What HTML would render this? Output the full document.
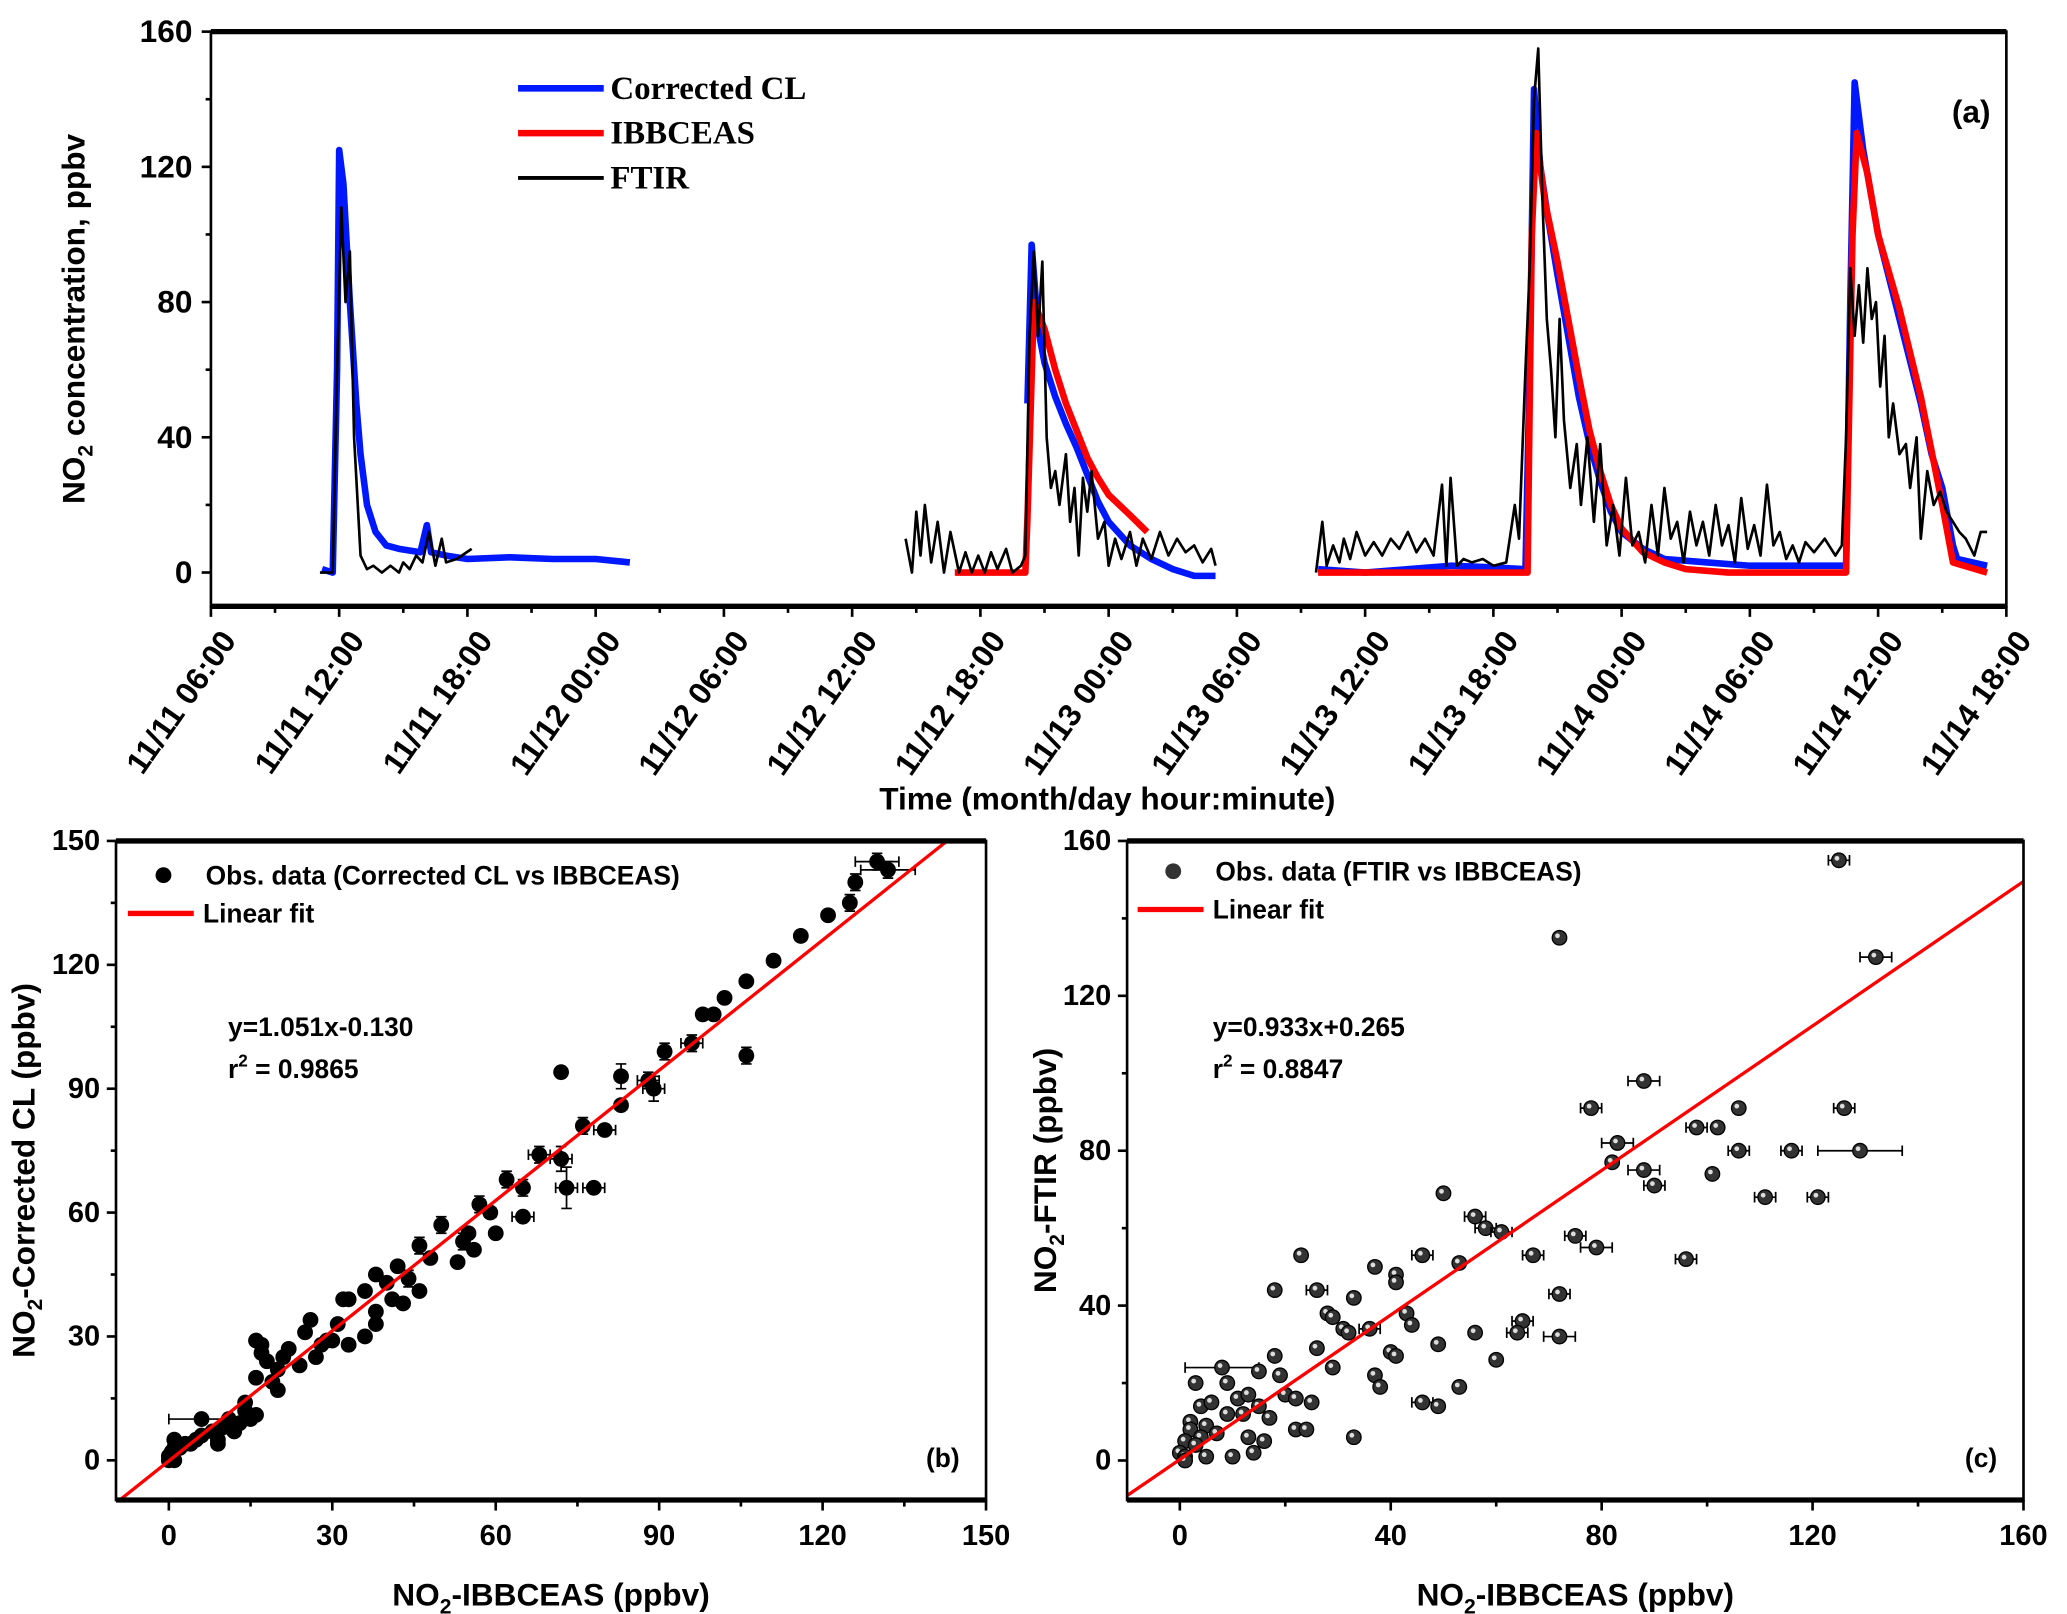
<!DOCTYPE html>
<html><head><meta charset="utf-8"><style>
html,body{margin:0;padding:0;background:#fff;}
svg{display:block;}
.tk{font-family:"Liberation Sans",sans-serif;font-weight:bold;font-size:22px;fill:#000;}
.tka{font-family:"Liberation Sans",sans-serif;font-weight:bold;font-size:24px;fill:#000;}
.tt{font-family:"Liberation Sans",sans-serif;font-weight:bold;font-size:24px;fill:#000;}
.lg{font-family:"Liberation Serif",serif;font-weight:bold;font-size:25px;fill:#000;}
.lg2{font-family:"Liberation Sans",sans-serif;font-weight:bold;font-size:20px;fill:#000;}
</style></head><body>
<svg id="fig" width="2067" height="1614" viewBox="0 0 1568 1224.5" preserveAspectRatio="none" xmlns="http://www.w3.org/2000/svg">
<g id="pa"></g>
<g id="pb"></g>
<g id="pc"></g>
</svg>
<script>
// ---------- Panel (a) data: hours since 11/11 06:00 ----------
const timeTickLabels=["11/11 06:00","11/11 12:00","11/11 18:00","11/12 00:00","11/12 06:00","11/12 12:00","11/12 18:00","11/13 00:00","11/13 06:00","11/13 12:00","11/13 18:00","11/14 00:00","11/14 06:00","11/14 12:00","11/14 18:00"];
const concTicks=[0,40,80,120,160];
const clSeg1=[[5.2,1],[5.7,0],[5.9,60],[6.0,125],[6.2,115],[6.5,80],[6.8,50],[7.0,35],[7.3,20],[7.7,12],[8.2,8],[8.8,7],[9.8,6],[10.1,14],[10.3,6],[11,5],[12,4],[14,4.5],[16,4],[18,4],[19.6,3]];
const clSeg2=[[38.2,50],[38.4,97],[38.7,72],[39.0,62],[39.5,52],[40,44],[40.5,37],[41,29],[41.5,21],[42,15],[43,8],[44,4],[45,1],[46,-1],[47,-1]];
const clSeg3=[[51.8,1],[54,0],[56,1],[58,2],[60,1.5],[61.5,1],[61.7,60],[61.9,143],[62.2,120],[62.5,107],[63,88],[63.5,70],[64,52],[64.5,38],[65,27],[65.5,18],[66,12],[67,7],[68,4],[70,3],[72,2],[74,2],[76.5,2],[76.7,80],[76.9,145],[77.3,125],[78,100],[79,75],[80,50],[80.5,35],[81,25],[81.5,8],[81.7,4],[83.1,2]];
const ibSeg2=[[34.8,0],[38.1,0],[38.2,16],[38.5,80],[39,72],[39.5,60],[40,50],[40.5,42],[41,34],[41.5,28],[42,23],[43,17],[43.8,12]];
const ibSeg3=[[51.8,0],[55,0],[58,0],[61.6,0],[61.8,100],[62,130],[62.4,110],[63,92],[63.5,75],[64,58],[64.5,42],[65,30],[65.5,20],[66,13],[67,6],[68,3],[69,1],[71,0],[76.5,0],[76.8,100],[77,130],[77.5,118],[78,100],[79,78],[80,52],[81,20],[81.5,3],[83.1,0]];
const ftSeg1=[[5.1,0],[5.7,0],[5.9,60],[6.1,108],[6.3,80],[6.5,95],[6.7,40],[7.0,5],[7.3,1],[7.6,2],[8.0,0],[8.4,2],[8.8,0],[9,3],[9.3,1],[9.6,5],[9.9,3],[10.2,12],[10.5,2],[10.8,10],[11,3],[11.5,4],[12.2,7]];
const ftSeg2=[[32.5,10],[32.8,0],[33,18],[33.2,5],[33.4,20],[33.7,3],[34,15],[34.3,0],[34.6,12],[35,0],[35.3,6],[35.6,0],[35.9,5],[36.2,0],[36.5,6],[36.8,1],[37.2,7],[37.5,0],[37.9,2],[38.1,5],[38.3,70],[38.5,95],[38.7,70],[38.9,92],[39.1,40],[39.3,25],[39.5,30],[39.7,20],[40,35],[40.2,15],[40.4,25],[40.6,5],[40.8,28],[41,18],[41.2,30],[41.5,10],[41.8,15],[42,2],[42.3,10],[42.6,4],[43,12],[43.3,2],[43.6,10],[44,4],[44.4,12],[44.8,5],[45.2,10],[45.6,6],[46,8],[46.4,3],[46.8,7],[47,2]];
const ftSeg3=[[51.7,0],[52,15],[52.2,2],[52.5,8],[52.8,3],[53,10],[53.3,4],[53.6,12],[54,5],[54.4,9],[54.8,5],[55.2,10],[55.6,7],[56,12],[56.4,6],[56.8,10],[57.2,5],[57.6,26],[57.8,2],[58,28],[58.3,2],[58.6,4],[59,3],[59.5,4],[60,2],[60.6,3],[61,20],[61.2,10],[61.5,60],[61.7,90],[61.9,140],[62.1,155],[62.3,110],[62.5,75],[62.7,60],[62.9,40],[63.1,75],[63.3,45],[63.6,25],[63.9,38],[64.1,20],[64.4,40],[64.7,15],[65,38],[65.3,8],[65.6,20],[65.9,5],[66.2,28],[66.5,8],[66.8,12],[67.1,3],[67.4,20],[67.7,5],[68,25],[68.3,10],[68.6,15],[68.9,3],[69.2,18],[69.5,8],[69.8,15],[70.1,5],[70.4,20],[70.7,8],[71,14],[71.3,3],[71.6,22],[71.9,7],[72.2,14],[72.5,5],[72.8,26],[73.1,8],[73.4,12],[73.7,4],[74,8],[74.3,3],[74.6,9],[75,6],[75.5,10],[76,5],[76.3,8],[76.5,40],[76.7,90],[76.9,70],[77.1,85],[77.3,68],[77.5,90],[77.7,75],[77.9,80],[78.1,55],[78.3,70],[78.5,40],[78.7,50],[79,35],[79.3,38],[79.5,25],[79.8,40],[80,10],[80.3,30],[80.6,20],[80.9,24],[81.2,18],[81.5,15],[81.8,12],[82.1,10],[82.5,5],[82.8,12],[83.1,12]];
// ---------- Panel (b) data: [IBBCEAS, CL, xerr, yerr] ----------
const bTicks=[0,30,60,90,120,150];
const bPoints=[[130,145,4,2],[132,143,5,2],[126,140,1,2],[125,135,1,2],[121,132,0,1],[116,127,1,1],[111,121,1,1],[106,116,0,1],[102,112,0,1],[100,108,1,1],[98,108,1,1],[96,101,2,2],[91,99,1,2],[88,92,2,2],[89,90,2,3],[83,86,1,1],[83,93,1,3],[80,80,2,1],[76,81,1,2],[72,73,2,3],[73,66,2,5],[78,66,2,1],[68,74,2,2],[65,66,1,2],[65,59,2,1],[62,68,1,2],[60,55,0,1],[59,60,1,1],[57,62,1,2],[56,51,0,1],[54,53,1,2],[53,48,0,1],[50,57,1,2],[48,49,0,1],[46,52,1,2],[46,41,0,1],[44,44,1,2],[42,47,0,1],[41,39,0,1],[43,38,0,1],[40,43,0,1],[38,36,0,1],[38,33,0,1],[36,30,0,1],[33,39,1,1],[32,39,0,1],[33,28,0,1],[31,33,0,1],[30,29,0,1],[29,29,0,1],[27,25,0,1],[26,34,0,1],[25,31,0,1],[24,23,0,1],[22,27,0,1],[21,25,0,1],[20,17,0,1],[19,19,0,1],[18,24,0,1],[17,26,0,1],[17,28,0,1],[16,20,0,1],[16,11,0,1],[15,10,0,1],[14,12,0,1],[13,9,0,1],[12,8,0,1],[11,10,0,1],[10,8,0,1],[9,5,0,1],[8,7,0,1],[6,6,0,1],[5,5,0,1],[4,4,0,1],[3,4,0,1],[2,3,0,1],[1,5,0,1],[1,3,0,1],[0.5,2,0,1],[0,1,0,1],[0,0,0,1],[1,0,0,1],[72,94,0,1],[106,98,1,2],[16,29,0,1],[9,4,0,1],[12,7,0,1],[14,14,0,1],[20,22,0,1],[36,41,0,1],[38,45,0,1],[28,28,0,1],[55,55,0,1],[6,10,6,0]];
// ---------- Panel (c) data: [IBBCEAS, FTIR, xerr] ----------
const cTicks=[0,40,80,120,160];
const cPoints=[[125,155,2],[72,135,1],[132,130,3],[88,98,3],[78,91,2],[106,91,1],[126,91,2],[98,86,2],[102,86,1],[83,82,3],[129,80,8],[106,80,2],[116,80,2],[88,75,3],[90,71,2],[101,74,1],[82,77,1],[111,68,2],[121,68,2],[50,69,1],[56,63,2],[58,60,2],[61,59,2],[75,58,2],[79,55,3],[96,52,2],[67,53,2],[46,53,2],[53,51,1],[23,53,1],[37,50,1],[41,48,1],[41,46,1],[18,44,1],[26,44,2],[33,42,1],[72,43,2],[43,38,1],[44,35,1],[28,38,1],[29,37,1],[31,34,1],[32,33,1],[36,34,2],[65,36,2],[64,33,2],[56,33,1],[49,30,1],[72,32,3],[40,28,1],[41,27,1],[26,29,1],[18,27,1],[60,26,1],[29,24,1],[8,24,7],[15,23,1],[19,22,1],[37,22,1],[38,19,1],[53,19,1],[3,20,1],[9,20,1],[46,15,2],[49,14,1],[11,16,1],[13,17,1],[20,17,1],[22,16,1],[25,15,1],[4,14,1],[6,15,1],[15,14,1],[12,12,1],[17,11,1],[2,10,1],[9,12,1],[5,9,1],[2,8,1],[4,6,1],[7,7,1],[22,8,1],[24,8,1],[13,6,1],[16,5,1],[33,6,1],[1,5,1],[3,4,1],[0,2,1],[1,1,1],[5,1,1],[10,1,1],[14,2,1],[1,0,1]];
const bFit=[1.051,-0.130];
const cFit=[0.933,0.265];

const NS="http://www.w3.org/2000/svg";
function mk(parent,tag,attrs,text){const e=document.createElementNS(NS,tag);for(const k in attrs)e.setAttribute(k,attrs[k]);if(text!==undefined)e.textContent=text;parent.appendChild(e);return e;}

// ---- panel a ----
const A={l:160,r:1522,t:24,b:460,x0:0,x1:84,y0:-10,y1:160};
const ax=h=>A.l+(h-A.x0)/(A.x1-A.x0)*(A.r-A.l);
const ay=v=>A.b-(v-A.y0)/(A.y1-A.y0)*(A.b-A.t);
const pa=document.getElementById('pa');
function line(g,seg,color,w,name){const p=mk(g,'path',{d:seg.map((q,i)=>(i?'L':'M')+ax(q[0]).toFixed(1)+','+ay(q[1]).toFixed(1)).join(''),fill:'none',stroke:color,'stroke-width':w,'stroke-linejoin':'round'});

}
[clSeg1,clSeg2,clSeg3].forEach((s,i)=>line(pa,s,'#0018ff',5,'corrected-cl-line-'+(i+1)));
[ibSeg2,ibSeg3].forEach((s,i)=>line(pa,s,'#ff0000',5,'ibbceas-line-'+(i+1)));
[ftSeg1,ftSeg2,ftSeg3].forEach((s,i)=>line(pa,s,'#000',2,'ftir-line-'+(i+1)));
mk(pa,'rect',{x:A.l,y:A.t,width:A.r-A.l,height:A.b-A.t,fill:'none',stroke:'#000','stroke-width':2,});
mk(pa,'line',{x1:A.l,y1:A.t,x2:A.r,y2:A.t,stroke:'#000','stroke-width':4});
mk(pa,'line',{x1:A.l,y1:A.b,x2:A.r,y2:A.b,stroke:'#000','stroke-width':4});
concTicks.forEach(v=>{mk(pa,'line',{x1:A.l-7,y1:ay(v),x2:A.l,y2:ay(v),stroke:'#000','stroke-width':2});
const t=mk(pa,'text',{x:A.l-14,y:ay(v)+8,'text-anchor':'end',class:'tka'},v);

});
for(let v=20;v<160;v+=40)mk(pa,'line',{x1:A.l-4,y1:ay(v),x2:A.l,y2:ay(v),stroke:'#000','stroke-width':2});
timeTickLabels.forEach((lab,i)=>{const x=ax(i*6);mk(pa,'line',{x1:x,y1:A.b,x2:x,y2:A.b+8,stroke:'#000','stroke-width':2});
if(i<14)mk(pa,'line',{x1:ax(i*6+3),y1:A.b,x2:ax(i*6+3),y2:A.b+5,stroke:'#000','stroke-width':2});
const t=mk(pa,'text',{x:x+20,y:A.b+26,'text-anchor':'end',class:'tka',transform:`rotate(-55 ${x+20} ${A.b+26})`},lab);

});
mk(pa,'text',{x:840,y:614,'text-anchor':'middle',class:'tt',},'Time (month/day hour:minute)');
const yt=mk(pa,'text',{x:64,y:242,'text-anchor':'middle',class:'tt',transform:'rotate(-90 64 242)',});
yt.innerHTML='NO<tspan font-size="16" dy="6">2</tspan><tspan dy="-6"> concentration, ppbv</tspan>';
mk(pa,'text',{x:1510,y:93,'text-anchor':'end',class:'tt',},'(a)');
[['Corrected CL','#0018ff',5,67],['IBBCEAS','#ff0000',5,101],['FTIR','#000',3,135]].forEach(L=>{
mk(pa,'line',{x1:393,y1:L[3],x2:458,y2:L[3],stroke:L[1],'stroke-width':L[2],});
mk(pa,'text',{x:463,y:L[3]+8,class:'lg',},L[0]);});

// ---- scatter panels ----
function scatter(g,B,ticks,pts,fit,hollow,ylabRest,eq,r2,plab,leg,legText){
const sx=v=>B.l+(v-B.x0)/(B.x1-B.x0)*(B.r-B.l);
const sy=v=>B.b-(v-B.y0)/(B.y1-B.y0)*(B.b-B.t);
mk(g,'defs',{}).innerHTML=`<clipPath id="clip${plab}"><rect x="${B.l}" y="${B.t}" width="${B.r-B.l}" height="${B.b-B.t}"/></clipPath>`;
pts.forEach(p=>{const cx=sx(p[0]),cy=sy(p[1]);
if(p[2]>0){mk(g,'path',{d:`M${sx(p[0]-p[2])},${cy}H${sx(p[0]+p[2])}M${sx(p[0]-p[2])},${cy-4}v8M${sx(p[0]+p[2])},${cy-4}v8`,stroke:'#000','stroke-width':1.3,fill:'none'});}
if(p[3]>0){mk(g,'path',{d:`M${cx},${sy(p[1]-p[3])}V${sy(p[1]+p[3])}M${cx-4},${sy(p[1]-p[3])}h8M${cx-4},${sy(p[1]+p[3])}h8`,stroke:'#000','stroke-width':1.3,fill:'none'});}
const c=mk(g,'circle',{cx:cx,cy:cy,r:5.5,fill:hollow?'#333':'#000',stroke:'#000','stroke-width':1});


if(hollow)mk(g,'circle',{cx:cx-1.5,cy:cy-1.5,r:1.8,fill:'#ddd'});});
const fl=mk(g,'line',{x1:sx(B.x0),y1:sy(fit[0]*B.x0+fit[1]),x2:sx(B.x1),y2:sy(fit[0]*B.x1+fit[1]),stroke:'#ff0000','stroke-width':2.5,'clip-path':`url(#clip${plab})`});


mk(g,'rect',{x:B.l,y:B.t,width:B.r-B.l,height:B.b-B.t,fill:'none',stroke:'#000','stroke-width':2,});
mk(g,'line',{x1:B.l,y1:B.t,x2:B.r,y2:B.t,stroke:'#000','stroke-width':4});
mk(g,'line',{x1:B.l,y1:B.b,x2:B.r,y2:B.b,stroke:'#000','stroke-width':4});
const step=ticks[1]-ticks[0];
ticks.forEach(v=>{mk(g,'line',{x1:sx(v),y1:B.b,x2:sx(v),y2:B.b+8,stroke:'#000','stroke-width':2});
mk(g,'line',{x1:B.l-7,y1:sy(v),x2:B.l,y2:sy(v),stroke:'#000','stroke-width':2});
if(v+step/2<B.x1){mk(g,'line',{x1:sx(v+step/2),y1:B.b,x2:sx(v+step/2),y2:B.b+5,stroke:'#000','stroke-width':2});mk(g,'line',{x1:B.l-4,y1:sy(v+step/2),x2:B.l,y2:sy(v+step/2),stroke:'#000','stroke-width':2});}
const tx=mk(g,'text',{x:sx(v),y:B.b+34,'text-anchor':'middle',class:'tk'},v);


const ty=mk(g,'text',{x:B.l-12,y:sy(v)+7,'text-anchor':'end',class:'tk'},v);

});
const xt=mk(g,'text',{x:(B.l+B.r)/2,y:B.b+80,'text-anchor':'middle',class:'tt',});
xt.innerHTML='NO<tspan font-size="16" dy="6">2</tspan><tspan dy="-6">-IBBCEAS (ppbv)</tspan>';
const yx=B.l-(plab==='b'?62:54),ym=(B.t+B.b)/2;
const yl=mk(g,'text',{x:yx,y:ym,'text-anchor':'middle',class:'tt',transform:`rotate(-90 ${yx} ${ym})`,});
yl.innerHTML='NO<tspan font-size="16" dy="6">2</tspan><tspan dy="-6">'+ylabRest+'</tspan>';
mk(g,'text',{x:B.l+(plab==='b'?85:65),y:B.t+148,class:'lg2'},eq);
const r=mk(g,'text',{x:B.l+(plab==='b'?85:65),y:B.t+180,class:'lg2'});r.innerHTML='r<tspan font-size="13" dy="-9">2</tspan><tspan dy="9"> = '+r2+'</tspan>';
mk(g,'text',{x:B.r-20,y:B.b-25,'text-anchor':'end',class:'lg2',},'('+plab+')');
mk(g,'circle',{cx:leg[0],cy:leg[1],r:6,fill:hollow?'#333':'#000'});
mk(g,'text',{x:leg[0]+32,y:leg[1]+7,class:'lg2',},legText);
mk(g,'line',{x1:leg[0]-27,y1:leg[1]+29,x2:leg[0]+23,y2:leg[1]+29,stroke:'#ff0000','stroke-width':4,});
mk(g,'text',{x:leg[0]+30,y:leg[1]+36,class:'lg2',},'Linear fit');
}
scatter(document.getElementById('pb'),{l:88,r:748,t:638,b:1138,x0:-9.7,x1:150,y0:-9.6,y1:150},bTicks,bPoints,bFit,false,'-Corrected CL (ppbv)','y=1.051x-0.130','0.9865','b',[124,664],'Obs. data (Corrected CL vs IBBCEAS)');
scatter(document.getElementById('pc'),{l:855,r:1535,t:638,b:1138,x0:-10,x1:160,y0:-10.2,y1:160},cTicks,cPoints.map(p=>[p[0],p[1],p[2],0]),cFit,true,'-FTIR (ppbv)','y=0.933x+0.265','0.8847','c',[890,661],'Obs. data (FTIR vs IBBCEAS)');
</script>
</body></html>
